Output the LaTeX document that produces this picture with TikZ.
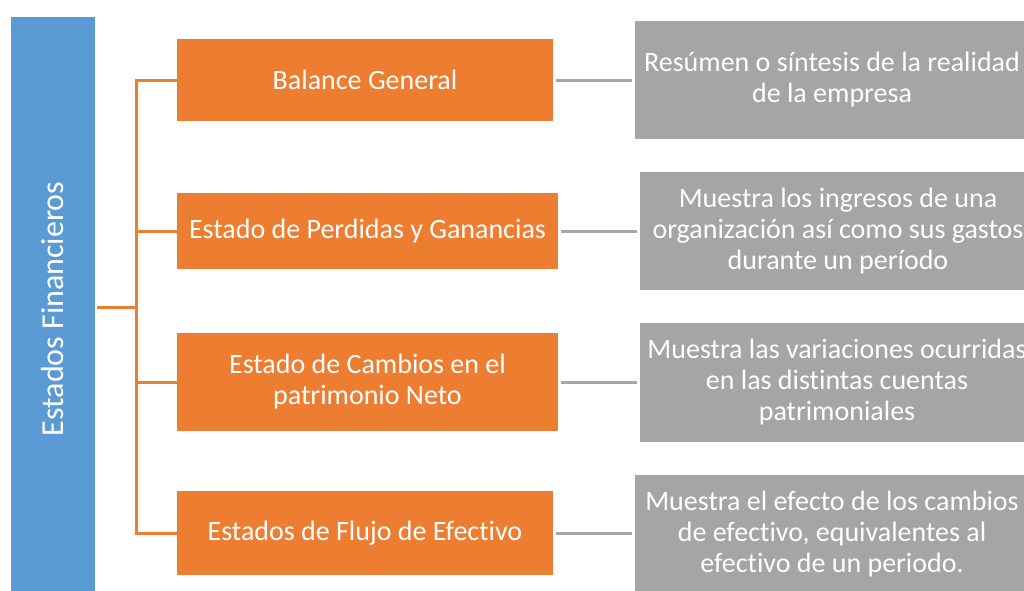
\documentclass[tikz,border=0pt]{standalone}
\usepackage{fontspec}
\setmainfont{Carlito}[Ligatures={NoCommon}]
\usetikzlibrary{positioning}
\definecolor{estblue}{HTML}{5B9BD5}
\definecolor{estorange}{HTML}{ED7D31}
\definecolor{estgray}{HTML}{A5A5A5}
\tikzset{
  rootbar/.style={fill=estblue, text=white, inner sep=0pt, minimum width=84pt, minimum height=578pt},
  statebox/.style={fill=estorange, text=white, align=center, inner sep=0pt, minimum width=#1, font=\fontsize{28}{31}\selectfont},
  notebox/.style={fill=estgray, text=white, align=center, inner sep=0pt, minimum width=394pt, minimum height=118pt, font=\fontsize{28}{31}\selectfont},
  branch/.style={draw=estorange, line width=3pt},
  link/.style={draw=estgray, line width=3pt, shorten <=3pt, shorten >=3pt}
}
\begin{document}
\begin{tikzpicture}[x=1pt, y=-1pt]
  \useasboundingbox (0,0) rectangle (1024,590);
  \clip (0,0) rectangle (1024,590);

  % Drawing the root bar
  \node [rootbar] (root) at (53,306) {};%
  \node [text=white, rotate=90, font=\fontsize{32}{36}\selectfont] (rootlabel) at (53,309) {Estados Financieros};%

  % Drawing the states
  \node [statebox=376pt, minimum height=82pt] (o1) at (365,80) {Balance General};%
  \node [statebox=381pt, minimum height=76pt] (o2) at (367.5,231) {Estado de Perdidas y Ganancias};%
  \node [statebox=381pt, minimum height=98pt] (o3) at (367.5,382) {Estado de Cambios en el\\patrimonio Neto};%
  \node [statebox=376pt, minimum height=84pt] (o4) at (365,533) {Estados de Flujo de Efectivo};%

  % Drawing the notes
  \node [notebox] (g1) at (832,80) {Resúmen o síntesis de la realidad\\de la empresa};%
  \node [notebox, minimum width=396pt] (g2) at (838,231) {Muestra los ingresos de una\\organización así como sus gastos\\durante un período};%
  \node [notebox, minimum height=119pt] (g3) at (837,382.5) {Muestra las variaciones ocurridas\\en las distintas cuentas\\patrimoniales};%
  \node [notebox] (g4) at (832,534) {Muestra el efecto de los cambios\\de efectivo, equivalentes al\\efectivo de un periodo.};%

  % Drawing the tree
  \coordinate (spine) at (136,307);%
  \draw [branch, shorten <=2pt] (root.east |- spine) -- (spine);%
  \foreach \i in {1,...,4}
    \draw [branch] (o\i.west) -| (spine);%

  % Drawing the links
  \foreach \i in {1,...,4}
    \draw [link] (o\i.east) -- (o\i.east -| g\i.west);%
\end{tikzpicture}
\end{document}
